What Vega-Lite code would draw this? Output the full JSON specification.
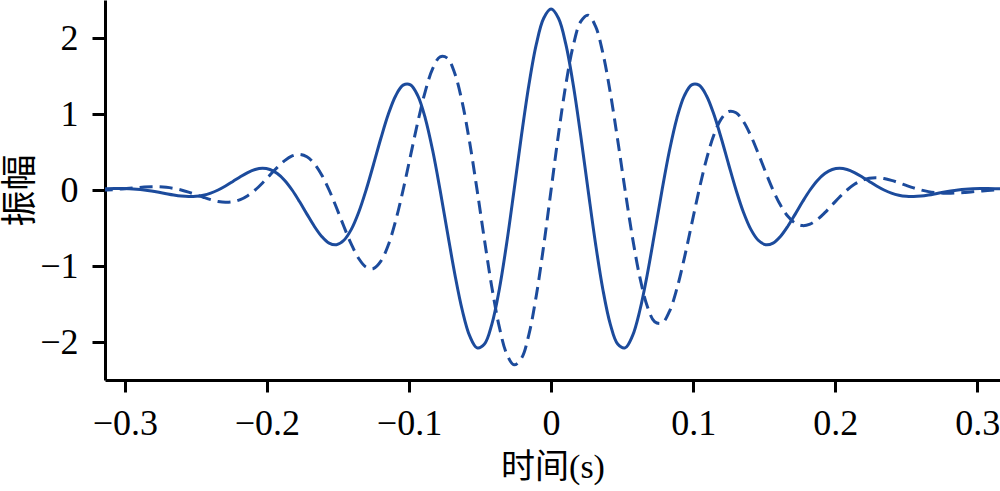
{
  "$schema": "https://vega.github.io/schema/vega-lite/v6.json",
  "width": 895,
  "height": 380,
  "autosize": "none",
  "padding": {"left": 105, "top": 0, "right": 0, "bottom": 111},
  "background": "white",
  "config": {
    "view": {"stroke": null},
    "axis": {
      "grid": false,
      "domainColor": "black",
      "domainWidth": 3,
      "tickColor": "black",
      "tickWidth": 3,
      "tickSize": 12,
      "labelFont": "Liberation Serif",
      "labelFontSize": 36,
      "labelColor": "black",
      "titleFont": "Liberation Serif, Noto Sans CJK SC",
      "titleFontSize": 34,
      "titleFontWeight": "normal",
      "titleColor": "black"
    }
  },
  "data": {
    "values": [
      {"t": -0.317708, "s": 0.0143, "d": -0.0046},
      {"t": -0.3125, "s": 0.0176, "d": 0},
      {"t": -0.307292, "s": 0.0197, "d": 0.0064},
      {"t": -0.302083, "s": 0.0197, "d": 0.0143},
      {"t": -0.296875, "s": 0.0167, "d": 0.0230},
      {"t": -0.291667, "s": 0.0103, "d": 0.0316},
      {"t": -0.286458, "s": 0, "d": 0.0386},
      {"t": -0.28125, "s": -0.0138, "d": 0.0426},
      {"t": -0.276042, "s": -0.0304, "d": 0.0419},
      {"t": -0.270833, "s": -0.0484, "d": 0.0351},
      {"t": -0.265625, "s": -0.0654, "d": 0.0213},
      {"t": -0.260417, "s": -0.0789, "d": 0},
      {"t": -0.255208, "s": -0.0859, "d": -0.0279},
      {"t": -0.25, "s": -0.0834, "d": -0.0606},
      {"t": -0.244792, "s": -0.0689, "d": -0.0949},
      {"t": -0.239583, "s": -0.0412, "d": -0.1267},
      {"t": -0.234375, "s": 0, "d": -0.1508},
      {"t": -0.229167, "s": 0.0526, "d": -0.1619},
      {"t": -0.223958, "s": 0.1126, "d": -0.1550},
      {"t": -0.21875, "s": 0.1741, "d": -0.1265},
      {"t": -0.213542, "s": 0.2291, "d": -0.0744},
      {"t": -0.208333, "s": 0.2690, "d": 0},
      {"t": -0.203125, "s": 0.2849, "d": 0.0926},
      {"t": -0.197917, "s": 0.2692, "d": 0.1956},
      {"t": -0.192708, "s": 0.2167, "d": 0.2982},
      {"t": -0.1875, "s": 0.1258, "d": 0.3872},
      {"t": -0.182292, "s": 0, "d": 0.4485},
      {"t": -0.177083, "s": -0.1523, "d": 0.4686},
      {"t": -0.171875, "s": -0.3172, "d": 0.4366},
      {"t": -0.166667, "s": -0.4771, "d": 0.3466},
      {"t": -0.161458, "s": -0.6111, "d": 0.1986},
      {"t": -0.15625, "s": -0.6983, "d": 0},
      {"t": -0.151042, "s": -0.7197, "d": -0.2338},
      {"t": -0.145833, "s": -0.6616, "d": -0.4807},
      {"t": -0.140625, "s": -0.5181, "d": -0.7131},
      {"t": -0.135417, "s": -0.2928, "d": -0.9011},
      {"t": -0.130208, "s": 0, "d": -1.0157},
      {"t": -0.125, "s": 0.3355, "d": -1.0327},
      {"t": -0.119792, "s": 0.6804, "d": -0.9365},
      {"t": -0.114583, "s": 0.9957, "d": -0.7234},
      {"t": -0.109375, "s": 1.2411, "d": -0.4033},
      {"t": -0.104167, "s": 1.3800, "d": 0},
      {"t": -0.098958, "s": 1.3841, "d": 0.4497},
      {"t": -0.09375, "s": 1.2383, "d": 0.8997},
      {"t": -0.088542, "s": 0.9436, "d": 1.2987},
      {"t": -0.083333, "s": 0.5189, "d": 1.5970},
      {"t": -0.078125, "s": 0, "d": 1.7516},
      {"t": -0.072917, "s": -0.5631, "d": 1.7330},
      {"t": -0.067708, "s": -1.1112, "d": 1.5295},
      {"t": -0.0625, "s": -1.5824, "d": 1.1497},
      {"t": -0.057292, "s": -1.9195, "d": 0.6237},
      {"t": -0.052083, "s": -2.0768, "d": 0},
      {"t": -0.046875, "s": -2.0270, "d": -0.6586},
      {"t": -0.041667, "s": -1.7647, "d": -1.2821},
      {"t": -0.036458, "s": -1.3086, "d": -1.8011},
      {"t": -0.03125, "s": -0.7003, "d": -2.1552},
      {"t": -0.026042, "s": 0, "d": -2.3003},
      {"t": -0.020833, "s": 0.7196, "d": -2.2147},
      {"t": -0.015625, "s": 1.3819, "d": -1.9020},
      {"t": -0.010417, "s": 1.9150, "d": -1.3914},
      {"t": -0.005208, "s": 2.2605, "d": -0.7345},
      {"t": 0, "s": 2.38, "d": 0},
      {"t": 0.005208, "s": 2.2605, "d": 0.7345},
      {"t": 0.010417, "s": 1.9150, "d": 1.3914},
      {"t": 0.015625, "s": 1.3819, "d": 1.9020},
      {"t": 0.020833, "s": 0.7196, "d": 2.2147},
      {"t": 0.026042, "s": 0, "d": 2.3003},
      {"t": 0.03125, "s": -0.7003, "d": 2.1552},
      {"t": 0.036458, "s": -1.3086, "d": 1.8011},
      {"t": 0.041667, "s": -1.7647, "d": 1.2821},
      {"t": 0.046875, "s": -2.0270, "d": 0.6586},
      {"t": 0.052083, "s": -2.0768, "d": 0},
      {"t": 0.057292, "s": -1.9195, "d": -0.6237},
      {"t": 0.0625, "s": -1.5824, "d": -1.1497},
      {"t": 0.067708, "s": -1.1112, "d": -1.5295},
      {"t": 0.072917, "s": -0.5631, "d": -1.7330},
      {"t": 0.078125, "s": 0, "d": -1.7516},
      {"t": 0.083333, "s": 0.5189, "d": -1.5970},
      {"t": 0.088542, "s": 0.9436, "d": -1.2987},
      {"t": 0.09375, "s": 1.2383, "d": -0.8997},
      {"t": 0.098958, "s": 1.3841, "d": -0.4497},
      {"t": 0.104167, "s": 1.3800, "d": 0},
      {"t": 0.109375, "s": 1.2411, "d": 0.4033},
      {"t": 0.114583, "s": 0.9957, "d": 0.7234},
      {"t": 0.119792, "s": 0.6804, "d": 0.9365},
      {"t": 0.125, "s": 0.3355, "d": 1.0327},
      {"t": 0.130208, "s": 0, "d": 1.0157},
      {"t": 0.135417, "s": -0.2928, "d": 0.9011},
      {"t": 0.140625, "s": -0.5181, "d": 0.7131},
      {"t": 0.145833, "s": -0.6616, "d": 0.4807},
      {"t": 0.151042, "s": -0.7197, "d": 0.2338},
      {"t": 0.15625, "s": -0.6983, "d": 0},
      {"t": 0.161458, "s": -0.6111, "d": -0.1986},
      {"t": 0.166667, "s": -0.4771, "d": -0.3466},
      {"t": 0.171875, "s": -0.3172, "d": -0.4366},
      {"t": 0.177083, "s": -0.1523, "d": -0.4686},
      {"t": 0.182292, "s": 0, "d": -0.4485},
      {"t": 0.1875, "s": 0.1258, "d": -0.3872},
      {"t": 0.192708, "s": 0.2167, "d": -0.2982},
      {"t": 0.197917, "s": 0.2692, "d": -0.1956},
      {"t": 0.203125, "s": 0.2849, "d": -0.0926},
      {"t": 0.208333, "s": 0.2690, "d": 0},
      {"t": 0.213542, "s": 0.2291, "d": 0.0744},
      {"t": 0.21875, "s": 0.1741, "d": 0.1265},
      {"t": 0.223958, "s": 0.1126, "d": 0.1550},
      {"t": 0.229167, "s": 0.0526, "d": 0.1619},
      {"t": 0.234375, "s": 0, "d": 0.1508},
      {"t": 0.239583, "s": -0.0412, "d": 0.1267},
      {"t": 0.244792, "s": -0.0689, "d": 0.0949},
      {"t": 0.25, "s": -0.0834, "d": 0.0606},
      {"t": 0.255208, "s": -0.0859, "d": 0.0279},
      {"t": 0.260417, "s": -0.0789, "d": 0},
      {"t": 0.265625, "s": -0.0654, "d": -0.0213},
      {"t": 0.270833, "s": -0.0484, "d": -0.0351},
      {"t": 0.276042, "s": -0.0304, "d": -0.0419},
      {"t": 0.28125, "s": -0.0138, "d": -0.0426},
      {"t": 0.286458, "s": 0, "d": -0.0386},
      {"t": 0.291667, "s": 0.0103, "d": -0.0316},
      {"t": 0.296875, "s": 0.0167, "d": -0.0230},
      {"t": 0.302083, "s": 0.0197, "d": -0.0143},
      {"t": 0.307292, "s": 0.0197, "d": -0.0064},
      {"t": 0.3125, "s": 0.0176, "d": 0},
      {"t": 0.317708, "s": 0.0143, "d": 0.0046}
    ]
  },
  "encoding": {
    "x": {
      "field": "t",
      "type": "quantitative",
      "scale": {"domain": [-0.314, 0.316], "nice": false, "zero": false},
      "axis": {
        "title": "时间(s)",
        "values": [-0.3, -0.2, -0.1, 0, 0.1, 0.2, 0.3],
        "format": "~g",
        "labelPadding": 14,
        "titlePadding": 9
      }
    }
  },
  "layer": [
    {
      "mark": {"type": "line", "color": "#1c4b9c", "strokeWidth": 3, "interpolate": "catmull-rom", "clip": true},
      "encoding": {
        "y": {
          "field": "s",
          "type": "quantitative",
          "scale": {"domain": [-2.5, 2.5], "nice": false},
          "axis": {
            "title": "振幅",
            "titleFontSize": 36,
            "values": [-2, -1, 0, 1, 2],
            "format": "d",
            "tickSize": 13,
            "labelPadding": 14,
            "titlePadding": 0
          }
        }
      }
    },
    {
      "mark": {"type": "line", "color": "#1c4b9c", "strokeWidth": 3, "strokeDash": [13, 7], "interpolate": "catmull-rom", "clip": true},
      "encoding": {
        "y": {"field": "d", "type": "quantitative"}
      }
    }
  ]
}
